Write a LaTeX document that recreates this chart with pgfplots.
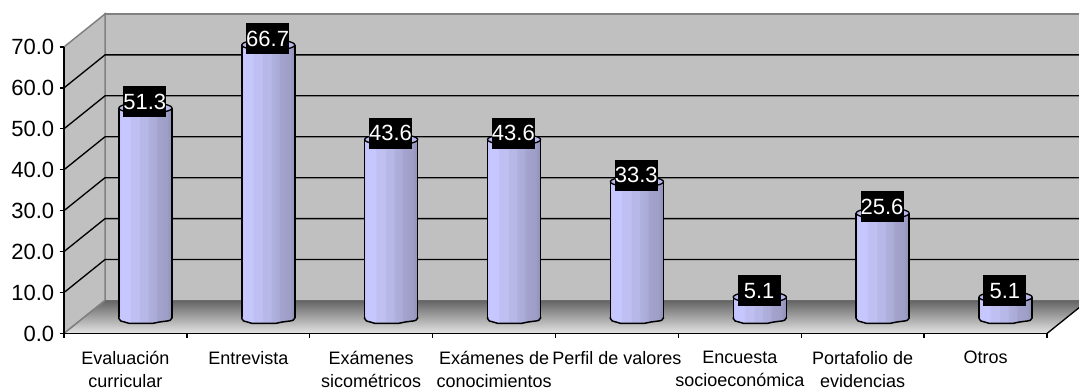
\documentclass[border=0pt]{standalone}
\usepackage{pgfplots}
\usepackage{pgfplotstable}
\usepackage{fontspec}
\setmainfont{Liberation Sans}
\pgfplotsset{compat=1.18}

\definecolor{wall}{RGB}{192,192,192}
\definecolor{walledge}{RGB}{128,128,128}
\definecolor{floorback}{RGB}{100,100,100}
\definecolor{floorfront}{RGB}{228,228,228}
\definecolor{capface}{RGB}{184,184,237}

\pgfplotstableread{
x   val
0.5 51.3
1.5 66.7
2.5 43.6
3.5 43.6
4.5 33.3
5.5 5.1
6.5 25.6
7.5 5.1
}\cylinderdata

% banded lilac body of the cylinders
\pgfdeclarehorizontalshading{cylbody}{100bp}{
  rgb(0bp)=(0.78,0.78,0.98);
  rgb(25bp)=(0.76,0.76,0.97);
  rgb(27bp)=(0.78,0.78,1.00);
  rgb(35bp)=(0.78,0.78,1.00);
  rgb(36bp)=(0.75,0.75,0.95);
  rgb(44bp)=(0.75,0.75,0.95);
  rgb(45bp)=(0.72,0.72,0.91);
  rgb(52bp)=(0.72,0.72,0.91);
  rgb(53bp)=(0.69,0.69,0.87);
  rgb(60bp)=(0.67,0.67,0.84);
  rgb(61bp)=(0.64,0.64,0.81);
  rgb(70bp)=(0.62,0.62,0.78);
  rgb(75bp)=(0.56,0.56,0.72);
  rgb(100bp)=(0.56,0.56,0.72)}

% rounded, slightly uneven foot of a cylinder: its face, then its edge
\pgfdeclareplotmark{cylfootface}{%
  \path[shading=cylbody,draw=none]
    (-19.9pt,0.6pt) -- (-19.9pt,-0.4pt)
    .. controls (-19.5pt,-2.2pt) and (-18pt,-2.6pt) .. (-15.7pt,-3pt)
    -- (-12pt,-4.1pt) -- (5.2pt,-4.1pt)
    -- (10.5pt,-3pt) -- (15pt,-2.4pt)
    .. controls (18pt,-2.2pt) and (19.9pt,-1.5pt) .. (19.9pt,0pt)
    -- (19.9pt,0.6pt) -- cycle;
}
\pgfdeclareplotmark{cylfootedge}{%
  \path[draw=black,fill=none,line width=1.1pt]
    (-19.9pt,0.6pt) -- (-19.9pt,-0.4pt)
    .. controls (-19.5pt,-2.2pt) and (-18pt,-2.6pt) .. (-15.7pt,-3pt)
    -- (-12pt,-4.1pt) -- (5.2pt,-4.1pt)
    -- (10.5pt,-3pt) -- (15pt,-2.4pt)
    .. controls (18pt,-2.2pt) and (19.9pt,-1.5pt) .. (19.9pt,0pt)
    -- (19.9pt,0.6pt);
}
% elliptical top face of a cylinder
\pgfdeclareplotmark{cylcap}{%
  \path[fill=capface,draw=black,line width=1pt]
    (0,0) ellipse [x radius=19.9pt, y radius=4.1pt];
}

\begin{document}
\begin{tikzpicture}[x=1pt,y=1pt]
\clip (0,0) rectangle (809.25pt,292.5pt);

% front plane: axes, walls and floor
\begin{axis}[
  at={(48pt,42.4pt)}, anchor=south west,
  scale only axis, width=737.25pt, height=214.9pt,
  xmin=0, xmax=8, ymin=0, ymax=70,
  clip=false, axis on top,
  separate axis lines, axis x line*=bottom, axis y line*=left,
  axis line style={line width=1.2pt,black},
  xtick={0,1,2,3,4,5,6,7,8}, xticklabels={},
  ytick={0,10,20,30,40,50,60,70},
  tick align=outside, major tick length=3.2pt,
  tick style={line width=1pt,black},
  /pgf/number format/assume math mode=true,
  /pgf/number format/fixed, /pgf/number format/fixed zerofill, /pgf/number format/precision=1,
  yticklabel style={font=\fontsize{16.5}{18}\selectfont,xshift=-0.6pt},
  extra x ticks={0.5,1.5,2.5,3.5,4.5,5.5,6.5,7.5},
  extra x tick labels={{Evaluación\\curricular},{Entrevista},{Exámenes\\sicométricos},{Exámenes de\\conocimientos},{Perfil de valores},{Encuesta\\socioeconómica},{Portafolio de\\evidencias},{Otros}},
  extra x tick style={major tick length=0pt, tick style={draw=none},
    xticklabel style={font=\fontsize{13.5}{17.6}\selectfont,align=center,anchor=north,inner sep=0pt,yshift=-13pt}},
]
  % back wall
  \addplot[fill=wall,draw=walledge,line width=1.1pt]
    coordinates {(0.334,8.06) (8.6,8.06) (8.6,78.06) (0.334,78.06)} -- cycle;
  % left wall
  \addplot[fill=wall,draw=walledge,line width=1.1pt]
    coordinates {(0,0) (0.334,8.06) (0.334,78.06) (0,70)} -- cycle;
  % gridlines on both walls
  \addplot[black,line width=1pt] coordinates {(0,10) (0.334,18.06) (8.6,18.06)};
  \addplot[black,line width=1pt] coordinates {(0,20) (0.334,28.06) (8.6,28.06)};
  \addplot[black,line width=1pt] coordinates {(0,30) (0.334,38.06) (8.6,38.06)};
  \addplot[black,line width=1pt] coordinates {(0,40) (0.334,48.06) (8.6,48.06)};
  \addplot[black,line width=1pt] coordinates {(0,50) (0.334,58.06) (8.6,58.06)};
  \addplot[black,line width=1pt] coordinates {(0,60) (0.334,68.06) (8.6,68.06)};
  % floor
  \addplot[top color=floorback,bottom color=floorfront,draw=none]
    coordinates {(0,0) (0.334,8.06) (8.334,8.06) (8,0)} -- cycle;
  \addplot[black,line width=1pt] coordinates {(8,0) (8.334,8.06)};
  \addplot[walledge,line width=1.1pt] coordinates {(0,0) (0.334,8.06)};
\end{axis}

% cylinders stand in the middle of the floor
\begin{axis}[
  at={(63pt,54pt)}, anchor=south west,
  scale only axis, width=737.25pt, height=214.9pt,
  xmin=0, xmax=8, ymin=0, ymax=70,
  clip=false, hide axis,
]
  % each body is its own plot so that the banding spans one cylinder
  \pgfplotsinvokeforeach{0,1,2,3,4,5,6,7}{
    \addplot[ybar, bar width=39.75pt, draw=none, shading=cylbody,
      restrict x to domain=#1.1:#1.9]
      table[x=x,y=val] {\cylinderdata};
  }
  % outlines of the two sides
  \addplot[ycomb, black, line width=1.1pt, xshift=-19.9pt] table[x=x,y=val] {\cylinderdata};
  \addplot[ycomb, black, line width=1.1pt, xshift=19.9pt] table[x=x,y=val] {\cylinderdata};
  \addplot[only marks, mark=cylfootface, mark options={draw=none}] table[x=x,y expr=0] {\cylinderdata};
  \addplot[only marks, mark=cylfootedge, mark options={fill=none}] table[x=x,y expr=0] {\cylinderdata};
  \addplot[only marks, mark=cylcap,
    nodes near coords, point meta=explicit,
    /pgf/number format/assume math mode=true,
    /pgf/number format/fixed, /pgf/number format/fixed zerofill, /pgf/number format/precision=1,
    every node near coord/.style={anchor=center, yshift=4.8pt, xshift=-0.5pt, fill=black, text=white,
      font=\fontsize{16.5}{18}\selectfont, inner sep=0pt, minimum width=32.25pt, minimum height=23.25pt},
  ] table[x=x,y=val,meta=val] {\cylinderdata};
\end{axis}
\end{tikzpicture}
\end{document}
